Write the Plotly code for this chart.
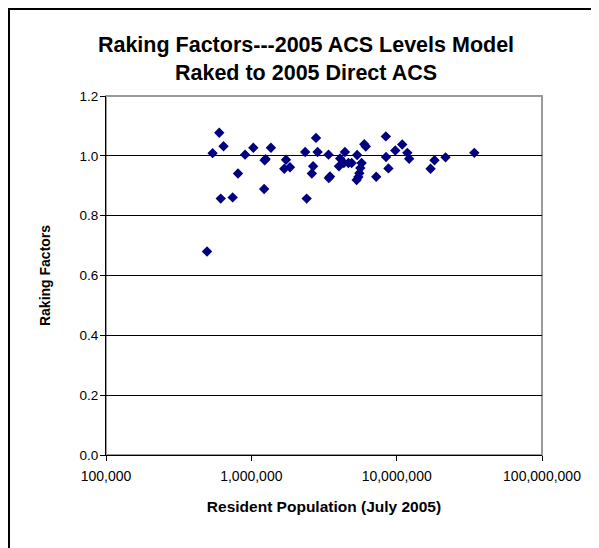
import plotly.graph_objects as go

# Resident population (July 2005) and raking factors
population = [
    495600, 601600, 643800, 541300, 905500, 1032000, 1364000, 1254000, 1235000,
    809700, 1225000, 615900, 743900, 1732000, 1686000, 1845000, 2347000, 2786000,
    2857000, 3397000, 2662000, 2608000, 3413000, 3478000, 2403000, 4405000,
    4084000, 4008000, 4335000, 4654000, 4902000, 5346000, 5987000, 6130000,
    5737000, 5621000, 5534000, 5448000, 5304000, 7231000, 8425000, 8450000,
    8777000, 9782000, 10920000, 11840000, 12190000, 17110000, 18210000,
    21690000, 34230000,
]
raking = [
    0.680, 1.077, 1.032, 1.009, 1.004, 1.027, 1.027, 0.989, 0.985,
    0.941, 0.889, 0.857, 0.861, 0.987, 0.957, 0.962, 1.013, 1.060,
    1.013, 1.004, 0.965, 0.941, 0.926, 0.931, 0.857, 1.013,
    0.991, 0.965, 0.976, 0.976, 0.976, 1.003, 1.039, 1.031,
    0.976, 0.959, 0.942, 0.929, 0.919, 0.930, 1.065, 0.996,
    0.958, 1.018, 1.038, 1.010, 0.990, 0.957, 0.985,
    0.995, 1.010,
]

x_tickvals = [1e5, 1e6, 1e7, 1e8]
x_ticktext = ["100,000", "1,000,000", "10,000,000", "100,000,000"]
y_tickvals = [0.0, 0.2, 0.4, 0.6, 0.8, 1.0, 1.2]
y_ticktext = ["0.0", "0.2", "0.4", "0.6", "0.8", "1.0", "1.2"]

FONT = "Liberation Sans, Arial, sans-serif"

fig = go.Figure()
fig.add_trace(go.Scatter(
    x=population, y=raking, mode="markers",
    marker=dict(symbol="diamond", size=8, color="#000080",
                line=dict(width=0)),
    showlegend=False, hoverinfo="x+y",
))

# page body has an 8px margin, so the figure is offset by 8px
OFF = 8
W, H = 599 - OFF, 548 - OFF
L, T = 106 - OFF, 96 - OFF
pw, ph = 436, 359
R = W - L - pw
B = H - T - ph

def px_x(p):
    return (p - L) / pw

def px_y(p):
    return (T + ph - p) / ph

fig.update_layout(
    width=W, height=H,
    margin=dict(l=L, r=R, t=T, b=B, autoexpand=False),
    paper_bgcolor="white", plot_bgcolor="white",
    font=dict(family=FONT, size=13, color="black"),
    title=dict(
        text="<b>Raking Factors---2005 ACS Levels Model<br>Raked to 2005 Direct ACS</b>",
        xref="container", x=(306 - OFF) / W, xanchor="center",
        yref="container", y=0.918, yanchor="top",
        font=dict(family=FONT, size=21.5, color="black"),
    ),
    xaxis=dict(
        type="log", range=[5, 8], automargin=False,
        tickvals=x_tickvals, ticktext=x_ticktext,
        showgrid=False, zeroline=False,
        showline=True, linecolor="black", linewidth=1,
        ticks="outside", ticklen=5, tickcolor="black",
        tickfont=dict(size=14), ticklabelstandoff=3,
        title=dict(text="<b>Resident Population (July 2005)</b>",
                   font=dict(size=15.5), standoff=18),
    ),
    yaxis=dict(
        range=[0, 1.2], automargin=False,
        tickvals=y_tickvals, ticktext=y_ticktext,
        showgrid=True, gridcolor="black", gridwidth=1,
        zeroline=False,
        showline=True, linecolor="black", linewidth=1,
        ticks="outside", ticklen=5, tickcolor="black",
        tickfont=dict(size=13.5), ticklabelstandoff=-1,
        title=dict(text="<b>Raking Factors</b>", font=dict(size=14),
                   standoff=25),
    ),
    shapes=[
        # gray plot-area frame
        dict(type="rect", xref="paper", yref="paper", x0=0, y0=0, x1=1, y1=1,
             line=dict(color="#9a9a9a", width=2), layer="below"),
        # outer chart border (bottom edge lies below the visible window)
        dict(type="rect", xref="paper", yref="paper",
             x0=px_x(1), x1=px_x(597 - OFF), y0=px_y(H + 10), y1=px_y(1),
             line=dict(color="black", width=2)),
    ],
)

fig.write_html("out.html")
